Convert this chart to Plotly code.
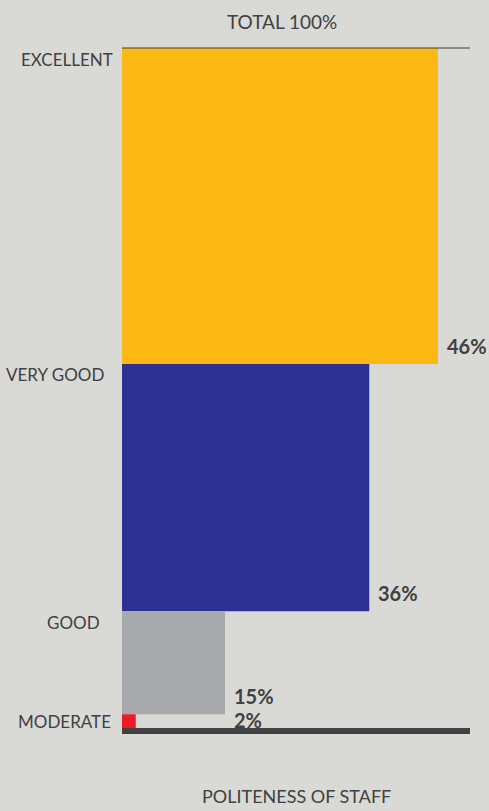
import plotly.graph_objects as go

# ---- data ----
categories = ["EXCELLENT", "VERY GOOD", "GOOD", "MODERATE"]
values = [46, 36, 15, 2]
value_labels = ["46%", "36%", "15%", "2%"]
colors = ["#FDB913", "#2E3192", "#A7A9AC", "#ED1C24"]
title_top = "TOTAL 100%"
title_bottom = "POLITENESS OF STAFF"

# ---- style ----
BG = "#D9D9D5"
TXT = "#414042"
FONT = "Lato"
cat_pad = [7, 16, 20, 9]   # px gap between label right edge and bars
L, R, T, B = 122, 19, 48, 83
W, H = 489, 811
plot_h = H - T - B
y_max = sum(values)          # stacked total (99)
px_per_unit = plot_h / y_max
x_max = (W - L - R) / px_per_unit

starts, centers, ends = [], [], []
c = 0
for v in values:
    starts.append(c)
    centers.append(c + v / 2)
    c += v
    ends.append(c)

fig = go.Figure()
for i, (cat, v) in enumerate(zip(categories, values)):
    fig.add_trace(go.Bar(
        orientation="h", x=[v], y=[centers[i]], width=[v], base=0,
        marker=dict(color=colors[i], line=dict(width=0)),
        name=cat, showlegend=False, hoverinfo="skip",
    ))

annotations = []
for i, (cat, v) in enumerate(zip(categories, values)):
    small = v < 5
    # category label
    annotations.append(dict(
        x=0, y=(centers[i] if small else starts[i]), xref="x", yref="y",
        text=cat, showarrow=False, xanchor="right", yanchor="middle",
        xshift=-cat_pad[i], yshift=(0 if small else -11),
        font=dict(family=FONT, size=17, color=TXT),
    ))
    # value label
    lx = max(v, values[i - 1]) if (small and i > 0) else v
    annotations.append(dict(
        x=lx, y=(centers[i] if small else ends[i]), xref="x", yref="y",
        text="<b>" + value_labels[i] + "</b>", showarrow=False,
        xanchor="left", yanchor="middle", xshift=7,
        yshift=(1 if small else 18),
        font=dict(family=FONT, size=20, color=TXT),
    ))

annotations.append(dict(
    x=(282 - L) / (W - L - R), y=1, xref="paper", yref="paper",
    text=title_top, showarrow=False, xanchor="center", yanchor="middle",
    yshift=27, font=dict(family=FONT, size=19, color=TXT),
))
annotations.append(dict(
    x=0.5, y=0, xref="paper", yref="paper",
    text=title_bottom, showarrow=False, xanchor="center", yanchor="middle",
    yshift=-68, font=dict(family=FONT, size=18, color=TXT),
))

fig.update_layout(
    width=W, height=H,
    margin=dict(l=L, r=R, t=T, b=B, pad=0),
    paper_bgcolor=BG, plot_bgcolor=BG,
    barmode="overlay",
    xaxis=dict(range=[0, x_max], showgrid=False, zeroline=False,
               showticklabels=False, ticks="", showline=True,
               linewidth=6, linecolor=TXT, fixedrange=True),
    yaxis=dict(range=[y_max, 0], showgrid=False, zeroline=False,
               showticklabels=False, ticks="", showline=False,
               fixedrange=True),
    annotations=annotations,
    shapes=[dict(type="line", xref="paper", yref="paper", x0=0, x1=1,
                 y0=1, y1=1, line=dict(color=TXT, width=1))],
)

fig.write_html("out.html", config={"displayModeBar": False})
